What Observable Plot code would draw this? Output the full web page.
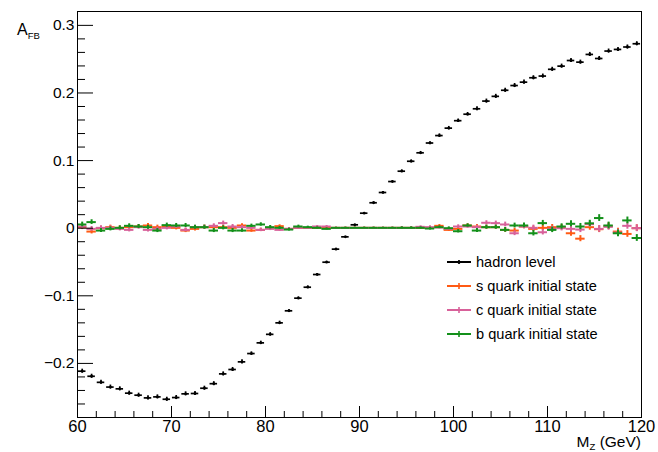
<!DOCTYPE html>
<html>
<head>
<meta charset="utf-8">
<script src="https://cdn.jsdelivr.net/npm/d3@7"></script>
<script src="https://cdn.jsdelivr.net/npm/@observablehq/plot@0.6"></script>
<style>
  html, body { margin: 0; padding: 0; background: #fff; }
  #wrap { position: relative; width: 658px; height: 452px; font-family: "Liberation Sans", Arial, Helvetica, sans-serif; }
  #legend { position: absolute; left: 446px; top: 250px; font-size: 14.6px; color: #000; }
  #legend .row { display: flex; align-items: center; height: 24px; }
  #legend svg { margin-right: 4px; }
</style>
</head>
<body>
<div id="wrap"></div>
<script>
// ---- data ----
const binCenters = [60.5,61.5,62.5,63.5,64.5,65.5,66.5,67.5,68.5,69.5,
  70.5,71.5,72.5,73.5,74.5,75.5,76.5,77.5,78.5,79.5,
  80.5,81.5,82.5,83.5,84.5,85.5,86.5,87.5,88.5,89.5,
  90.5,91.5,92.5,93.5,94.5,95.5,96.5,97.5,98.5,99.5,
  100.5,101.5,102.5,103.5,104.5,105.5,106.5,107.5,108.5,109.5,
  110.5,111.5,112.5,113.5,114.5,115.5,116.5,117.5,118.5,119.5];

const hadron = [-0.2115,-0.219,-0.228,-0.235,-0.2376,-0.244,-0.247,-0.251,-0.2495,-0.253,
  -0.2505,-0.245,-0.2445,-0.2367,-0.230,-0.2155,-0.209,-0.1977,-0.1854,-0.1696,
  -0.157,-0.140,-0.1222,-0.1035,-0.0873,-0.0685,-0.0503,-0.031,-0.0128,0.005,
  0.0222,0.0376,0.0528,0.069,0.0843,0.099,0.1115,0.126,0.137,0.148,
  0.159,0.1686,0.1766,0.188,0.195,0.204,0.211,0.216,0.2225,0.225,
  0.235,0.2397,0.248,0.2456,0.257,0.251,0.262,0.2644,0.268,0.2728];

const hadronErr = [0.003,0.003,0.003,0.003,0.003,0.003,0.003,0.003,0.003,0.003,
  0.003,0.003,0.003,0.003,0.003,0.003,0.003,0.003,0.0025,0.0025,
  0.0025,0.0025,0.002,0.002,0.002,0.0015,0.0015,0.0015,0.001,0.001,
  0.001,0.0015,0.0015,0.0015,0.002,0.002,0.002,0.002,0.0025,0.0025,
  0.0025,0.0025,0.003,0.003,0.003,0.003,0.003,0.003,0.003,0.003,
  0.003,0.003,0.003,0.003,0.003,0.003,0.003,0.003,0.003,0.003];

const sQuark = [0.0015,-0.005,0.0,0.0015,0.0005,0.0015,0.0025,0.004,0.0015,0.0025,
  0.0005,-0.0035,-0.001,0.0015,0.0015,0.0015,0.0005,0.004,-0.0035,-0.0025,
  0.0005,0.003,-0.001,0.0005,0.0005,0.0005,0.0005,0.0005,0.0005,0.0005,
  0.0005,0.0005,0.0005,0.0005,0.0005,0.0005,0.0005,0.0005,0.0035,-0.0025,
  -0.001,0.004,0.0025,0.0015,0.0015,-0.0025,-0.0035,0.0025,-0.001,0.0005,
  0.0015,0.0015,-0.0075,-0.0155,0.0015,-0.0015,0.003,-0.005,-0.0085,0.0];

const cQuark = [0.0025,-0.001,0.0005,0.0005,-0.001,-0.0025,0.0015,-0.0025,-0.001,0.0005,
  0.0025,-0.0025,0.0015,0.0015,0.0035,0.0075,0.0025,0.0015,0.0005,-0.0025,
  -0.001,-0.0025,-0.001,0.0005,0.0005,0.0025,0.0025,0.0005,0.0005,0.0005,
  0.0005,0.0005,0.0005,0.0005,0.0005,0.0005,0.002,0.0015,0.001,-0.001,
  0.0025,0.0025,0.0015,0.008,0.0075,0.0055,-0.0075,0.0025,0.0005,-0.006,
  -0.001,0.0,-0.001,-0.002,0.006,-0.001,0.002,-0.0065,0.0035,0.0];

const bQuark = [0.0055,0.009,-0.0035,-0.001,0.0005,0.0035,0.0025,0.0015,-0.0035,0.0045,
  0.004,0.004,0.0015,0.0015,-0.0035,0.0005,-0.0035,-0.0035,0.0035,0.0055,
  0.0015,0.0005,-0.002,0.0025,0.0015,0.0005,-0.001,0.0005,0.0005,0.0005,
  0.0005,0.0005,0.0005,0.0005,0.0005,0.0005,0.0005,-0.0005,0.0015,0.0,
  -0.0045,0.004,-0.0035,0.0015,0.0015,-0.0025,0.004,0.004,-0.0075,0.0075,
  -0.0025,0.0025,0.0065,0.0025,0.0072,0.015,0.004,-0.0075,0.0115,-0.0145];

const quarkErr = [0.0035,0.0035,0.003,0.003,0.003,0.003,0.003,0.003,0.003,0.003,
  0.003,0.003,0.003,0.003,0.003,0.003,0.003,0.0025,0.0025,0.0025,
  0.0025,0.002,0.002,0.002,0.0015,0.0015,0.0015,0.001,0.001,0.001,
  0.001,0.001,0.001,0.001,0.0015,0.0015,0.0015,0.002,0.002,0.002,
  0.0025,0.0025,0.003,0.003,0.003,0.0035,0.0035,0.0035,0.004,0.004,
  0.004,0.004,0.0045,0.0045,0.0045,0.005,0.005,0.005,0.005,0.005];

const seriesNames = ["hadron level","s quark initial state","c quark initial state","b quark initial state"];
const seriesColors = ["#000000","#ff5a14","#d8619a","#13901a"];
const xTicks = [60,70,80,90,100,110,120];
const xMinor = [62,64,66,68,72,74,76,78,82,84,86,88,92,94,96,98,102,104,106,108,112,114,116,118];
const yTicks = [-0.2,-0.1,0,0.1,0.2,0.3];
const yMinor = [-0.26,-0.24,-0.22,-0.18,-0.16,-0.14,-0.12,-0.08,-0.06,-0.04,-0.02,0.02,0.04,0.06,0.08,0.12,0.14,0.16,0.18,0.22,0.24,0.26,0.28];

// ---- build table ----
const valuesBySeries = [hadron, sQuark, cQuark, bQuark];
const rows = [];
valuesBySeries.forEach((vals, si) => {
  vals.forEach((v, i) => {
    const err = si === 0 ? hadronErr[i] : quarkErr[i];
    const half = si === 0 ? 0.4 : 0.5;
    rows.push({series: seriesNames[si], si, x: binCenters[i], x1: binCenters[i] - half, x2: binCenters[i] + half, y: v, y1: v - err, y2: v + err});
  });
});

const fmt = d => d === 0 ? "0" : (d < 0 ? "\u2212" + Math.abs(d).toFixed(1) : d.toFixed(1));

const marks = [];
[0,1,2,3].forEach(si => {
  const d = rows.filter(r => r.si === si);
  const sw = si === 0 ? 1.7 : 2;
  marks.push(Plot.ruleY(d, {y: "y", x1: "x1", x2: "x2", stroke: seriesColors[si], strokeWidth: sw}));
  marks.push(Plot.ruleX(d, {x: "x", y1: "y1", y2: "y2", stroke: seriesColors[si], strokeWidth: sw}));
  if (si === 0) marks.push(Plot.dot(d, {x: "x", y: "y", r: 1.4, fill: "#000", stroke: "none"}));
});

marks.push(Plot.axisY(yTicks, {anchor: "left", tickSize: 0, tickPadding: 3, tickFormat: fmt, fontSize: 15.5, fill: "#000"}));
marks.push(Plot.axisY(yTicks, {anchor: "left", tickSize: -16, text: null, stroke: "#000", strokeWidth: 1}));
marks.push(Plot.axisY(yMinor, {anchor: "left", tickSize: -8, text: null, stroke: "#000", strokeWidth: 1}));
marks.push(Plot.axisX(xTicks, {anchor: "bottom", tickSize: 0, tickPadding: 3, fontSize: 16.5, fill: "#000"}));
marks.push(Plot.axisX(xTicks, {anchor: "bottom", tickSize: -11, text: null, stroke: "#000", strokeWidth: 1}));
marks.push(Plot.axisX(xMinor, {anchor: "bottom", tickSize: -6, text: null, stroke: "#000", strokeWidth: 1}));
marks.push(Plot.frame({stroke: "#000", strokeWidth: 1}));

const chart = Plot.plot({
  width: 658,
  height: 452,
  marginLeft: 77,
  marginRight: 17,
  marginTop: 11,
  marginBottom: 35,
  style: {fontFamily: "'Liberation Sans', Arial, Helvetica, sans-serif", background: "#fff", overflow: "visible"},
  x: {domain: [60, 120], label: null},
  y: {domain: [-0.28, 0.3205], label: null},
  marks
});

// axis titles
const svg = d3.select(chart);
const ty = svg.append("text").attr("x", 17).attr("y", 35).attr("text-anchor", "start").attr("font-size", 16).attr("fill", "#000")
  .attr("font-family", "'Liberation Sans', Arial, sans-serif");
ty.append("tspan").text("A");
ty.append("tspan").attr("font-size", 9.5).attr("dy", 4).text("FB");
const tx = svg.append("text").attr("x", 641).attr("y", 447).attr("text-anchor", "end").attr("font-size", 15.5).attr("fill", "#000")
  .attr("font-family", "'Liberation Sans', Arial, sans-serif");
tx.append("tspan").text("M");
tx.append("tspan").attr("font-size", 9.5).attr("dy", 3).text("Z");
tx.append("tspan").attr("dy", -3).text(" (GeV)");

const wrap = document.getElementById("wrap");
wrap.appendChild(chart);

// legend
const legend = document.createElement("div");
legend.id = "legend";
seriesNames.forEach((name, si) => {
  const row = document.createElement("div");
  row.className = "row";
  const c = seriesColors[si];
  const mid = si === 0
    ? `<circle cx="13" cy="6" r="1.6" fill="${c}"/><line x1="13" x2="13" y1="4" y2="8" stroke="${c}" stroke-width="1.6"/>`
    : `<line x1="13" x2="13" y1="3" y2="9" stroke="${c}" stroke-width="1.6"/>`;
  row.innerHTML = `<svg width="26" height="12"><line x1="1" x2="25" y1="6" y2="6" stroke="${c}" stroke-width="2"/>${mid}</svg><span>${name}</span>`;
  legend.appendChild(row);
});
wrap.appendChild(legend);
</script>
</body>
</html>
